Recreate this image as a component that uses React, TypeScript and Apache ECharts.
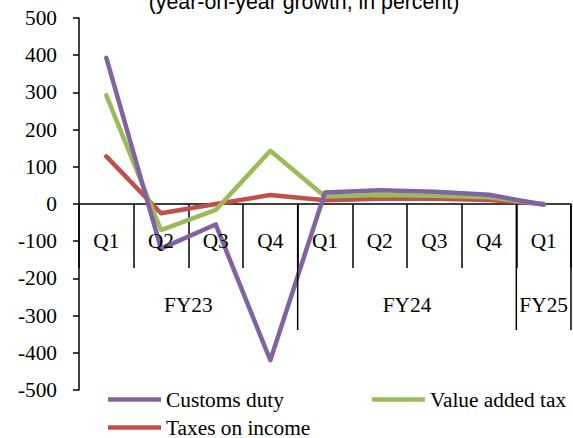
import React, { useEffect, useRef } from "react";
import * as echarts from "echarts";

const quarters = ["Q1", "Q2", "Q3", "Q4", "Q1", "Q2", "Q3", "Q4", "Q1"];
const fiscalYears = ["FY23", "FY24", "FY25"];
const fiscalYearSizes = [4, 4, 1];
const yTickValues = [-500, -400, -300, -200, -100, 0, 100, 200, 300, 400, 500];
const customsDuty = [393, -120, -55, -420, 31, 37, 33, 25, -2];
const valueAddedTax = [292, -70, -16, 143, 20, 24, 22, 18, 0];
const taxesOnIncome = [128, -25, 0, 24, 10, 14, 14, 11, 0];
const titleText = "(year-on-year growth, in percent)";

const PURPLE = "#8064A2";
const GREEN = "#9BBB59";
const RED = "#C0504D";
const SERIF = "Liberation Serif";
const SANS = "Liberation Sans";
const FS = 21.33;

export default function App() {
  const ref = useRef<HTMLDivElement>(null);
  useEffect(() => {
    if (!ref.current) return;
    const chart = echarts.init(ref.current, undefined, { renderer: "svg" });
    const lineSeries = (name: string, data: number[], color: string, z: number) => ({
      name,
      type: "line",
      data,
      symbol: "none",
      z,
      itemStyle: { color },
      lineStyle: { color, width: 4.5, cap: "round", join: "round" },
    });
    const labelStyle = { fontFamily: SERIF, fontSize: FS, color: "#000" };
    chart.setOption({
      animation: false,
      textStyle: { fontFamily: SERIF, fontSize: FS, color: "#000" },
      grid: { left: 79, right: 2, top: 18, bottom: 48, containLabel: false },
      legend: [
        {
          data: ["Customs duty", "Value added tax"],
          left: 108,
          top: 389,
          padding: 0,
          orient: "horizontal",
          itemGap: 88,
          itemWidth: 53,
          itemHeight: 4.5,
          icon: "rect",
          textStyle: labelStyle,
        },
        {
          data: ["Taxes on income"],
          left: 108,
          top: 417,
          padding: 0,
          itemWidth: 53,
          itemHeight: 4.5,
          icon: "rect",
          textStyle: labelStyle,
        },
      ],
      xAxis: {
        type: "category",
        data: quarters,
        boundaryGap: true,
        axisLine: { onZero: true, lineStyle: { color: "#000", width: 1.5 } },
        axisTick: { show: true, interval: 0, length: 64, alignWithLabel: false, lineStyle: { color: "#000", width: 1.5 } },
        axisLabel: { show: false },
        splitLine: { show: false },
      },
      yAxis: {
        type: "value",
        min: -500,
        max: 500,
        interval: 100,
        axisLine: { show: true, onZero: false, lineStyle: { color: "#000", width: 1.5 } },
        axisTick: { show: true, length: 6, lineStyle: { color: "#000", width: 1.5 } },
        axisLabel: { show: false },
        splitLine: { show: false },
      },
      series: [
        lineSeries("Taxes on income", taxesOnIncome, RED, 2),
        lineSeries("Value added tax", valueAddedTax, GREEN, 3),
        lineSeries("Customs duty", customsDuty, PURPLE, 4),
      ],
    });

    // Axis labels, group dividers and fiscal-year labels, placed through the axis scales
    const p0 = chart.convertToPixel({ seriesIndex: 0 }, [0, 0]) as number[];
    const p1 = chart.convertToPixel({ seriesIndex: 0 }, [1, 0]) as number[];
    const step = p1[0] - p0[0];
    const zeroY = p0[1];
    const boundaryX = (idx: number) => p0[0] - step / 2 + idx * step;
    const axisX = boundaryX(0);
    const graphics: any[] = [];
    const txt = (text: string, x: number, y: number, align: string, family = SERIF) => ({
      type: "text",
      x,
      y,
      style: { text, font: `${FS}px ${family}`, fill: "#000", textAlign: align, textVerticalAlign: "middle" },
      z: 5,
    });
    yTickValues.forEach((v) => {
      const y = chart.convertToPixel({ yAxisIndex: 0 }, v) as number;
      graphics.push(txt(String(v), axisX - 22, y, "right"));
    });
    quarters.forEach((q, i) => {
      graphics.push(txt(q, boundaryX(i) + step / 2, zeroY + 37, "center"));
    });
    let start = 0;
    fiscalYears.forEach((fy, i) => {
      const end = start + fiscalYearSizes[i];
      graphics.push({
        type: "line",
        shape: { x1: boundaryX(end), y1: zeroY, x2: boundaryX(end), y2: zeroY + 126 },
        style: { stroke: "#000", lineWidth: 1.5 },
        z: 5,
      });
      graphics.push(txt(fy, (boundaryX(start) + boundaryX(end)) / 2, zeroY + 101, "center"));
      start = end;
    });
    graphics.push(txt(titleText, 304, 2, "center", SANS));
    chart.setOption({ graphic: graphics });

    return () => chart.dispose();
  }, []);
  return (
    <div
      ref={ref}
      style={{ position: "fixed", left: 0, top: 0, width: 573, height: 438, background: "#fff" }}
    />
  );
}
